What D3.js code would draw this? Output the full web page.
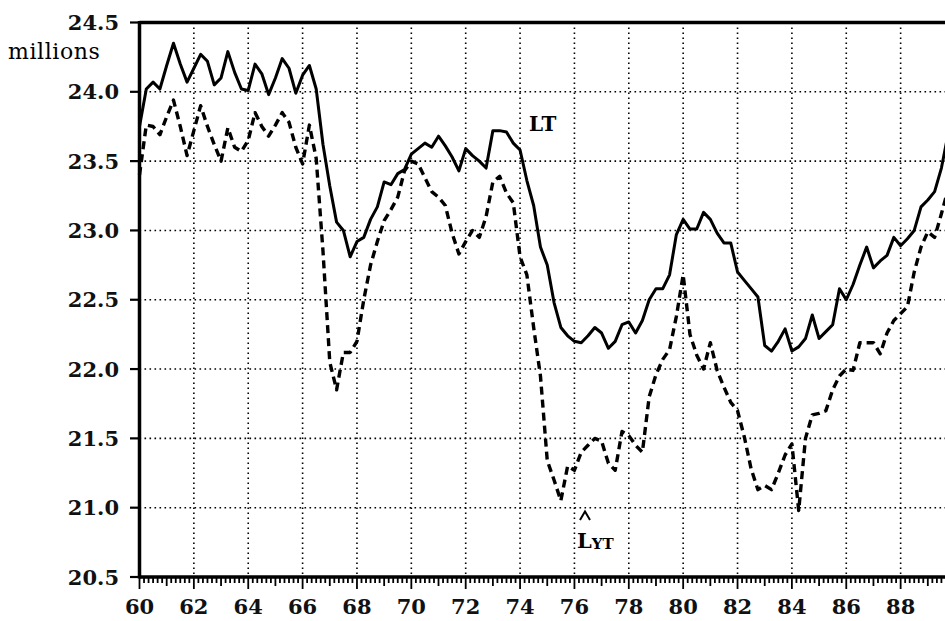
<!DOCTYPE html>
<html>
<head>
<meta charset="utf-8">
<script src="https://cdn.jsdelivr.net/npm/d3@7"></script>
<style>
  body { margin: 0; background: #fff; }
  svg { display: block; }
  .tick-label { font-family: "DejaVu Serif", serif; font-weight: bold; font-size: 21px; fill: #111; }
</style>
</head>
<body>
<svg id="chart" width="945" height="621"></svg>
<script>
// quarterly series, first value = 1960 Q1
var startYear = 60;
var lt = [
    23.75, 24.02, 24.07, 24.02,
    24.19, 24.35, 24.20, 24.07,
    24.17, 24.27, 24.22, 24.05,
    24.10, 24.29, 24.14, 24.02,
    24.01, 24.20, 24.13, 23.98,
    24.10, 24.24, 24.17, 23.99,
    24.12, 24.19, 24.02, 23.62,
    23.32, 23.06, 23.00, 22.81,
    22.92, 22.95, 23.08, 23.17,
    23.35, 23.33, 23.41, 23.44,
    23.55, 23.59, 23.63, 23.60,
    23.68, 23.61, 23.53, 23.43,
    23.59, 23.54, 23.50, 23.45,
    23.72, 23.72, 23.71, 23.63,
    23.58, 23.36, 23.18, 22.88,
    22.75, 22.48, 22.30, 22.24,
    22.20, 22.19, 22.24, 22.30,
    22.26, 22.15, 22.20, 22.32,
    22.34, 22.26, 22.35, 22.50,
    22.58, 22.58, 22.68, 22.97,
    23.08, 23.01, 23.01, 23.13,
    23.08, 22.98, 22.91, 22.91,
    22.70, 22.64, 22.58, 22.52,
    22.17, 22.13, 22.20, 22.29,
    22.13, 22.16, 22.22, 22.39,
    22.22, 22.27, 22.32, 22.58,
    22.50, 22.61, 22.75, 22.88,
    22.73, 22.78, 22.82, 22.95,
    22.89, 22.94, 23.00, 23.17,
    23.22, 23.28, 23.45, 23.70
];
var lyt = [
    23.40, 23.76, 23.75, 23.69,
    23.82, 23.94, 23.75, 23.54,
    23.72, 23.90, 23.75, 23.62,
    23.50, 23.74, 23.60, 23.57,
    23.65, 23.85, 23.75, 23.68,
    23.76, 23.85, 23.78, 23.60,
    23.48, 23.76, 23.52, 22.85,
    22.05, 21.85, 22.12, 22.12,
    22.20, 22.50, 22.75, 22.92,
    23.07, 23.15, 23.24, 23.43,
    23.50, 23.48, 23.38, 23.28,
    23.24, 23.18, 22.98, 22.83,
    22.92, 23.00, 22.95, 23.10,
    23.35, 23.39, 23.27, 23.20,
    22.81, 22.68, 22.30, 21.95,
    21.34, 21.20, 21.05, 21.30,
    21.27, 21.40, 21.45, 21.50,
    21.48, 21.32, 21.27, 21.55,
    21.52, 21.45, 21.40, 21.80,
    21.96, 22.07, 22.14, 22.38,
    22.68, 22.25, 22.10, 22.00,
    22.19, 21.99, 21.87, 21.76,
    21.70, 21.51, 21.28, 21.13,
    21.16, 21.13, 21.25, 21.38,
    21.46, 20.98, 21.50, 21.67,
    21.68, 21.70, 21.85, 21.95,
    22.00, 21.99, 22.19, 22.19,
    22.19, 22.11, 22.26, 22.35,
    22.40, 22.45, 22.70, 22.88,
    22.99, 22.95, 23.12, 23.30
];
var yTicks = [20.5, 21.0, 21.5, 22.0, 22.5, 23.0, 23.5, 24.0, 24.5];
var xTicks = [60, 62, 64, 66, 68, 70, 72, 74, 76, 78, 80, 82, 84, 86, 88];

var svg = d3.select("#chart");

var x = d3.scaleLinear().domain([60, 90]).range([139.5, 955]);
var y = d3.scaleLinear().domain([20.5, 24.5]).range([577, 22.5]);

function toPoints(arr) {
    return arr.map(function (v, i) {
        return { t: startYear + i / 4, v: v };
    });
}

// dotted grid
svg.append("g").selectAll("line")
    .data(yTicks.slice(1, -1))
    .enter()
    .append("line")
    .attr("x1", x(60)).attr("x2", 945)
    .attr("y1", function (d) { return y(d); })
    .attr("y2", function (d) { return y(d); })
    .attr("stroke", "#000")
    .attr("stroke-width", 1.6)
    .attr("stroke-dasharray", "1.6 3.4");

svg.append("g").selectAll("line")
    .data(xTicks.slice(1))
    .enter()
    .append("line")
    .attr("x1", function (d) { return x(d); })
    .attr("x2", function (d) { return x(d); })
    .attr("y1", y(24.5)).attr("y2", y(20.5))
    .attr("stroke", "#000")
    .attr("stroke-width", 1.6)
    .attr("stroke-dasharray", "1.6 3.4");

// x minor ticks, every two months
var minor = d3.range(60 * 6, 90 * 6 + 1).map(function (k) { return k / 6; });
svg.append("g").selectAll("line")
    .data(minor)
    .enter()
    .append("line")
    .attr("x1", function (d) { return x(d); })
    .attr("x2", function (d) { return x(d); })
    .attr("y1", y(20.5))
    .attr("y2", function (d) {
        var r = Math.round(d * 6) % 12;
        if (r === 0) return y(20.5) + 12;
        if (r === 6) return y(20.5) + 9;
        return y(20.5) + 6;
    })
    .attr("stroke", "#000")
    .attr("stroke-width", 1.8);

svg.append("g").selectAll("text")
    .data(xTicks)
    .enter()
    .append("text")
    .attr("class", "tick-label")
    .attr("x", function (d) { return x(d); })
    .attr("y", 614)
    .attr("text-anchor", "middle")
    .text(function (d) { return d; });

// y ticks
svg.append("g").selectAll("line")
    .data(yTicks)
    .enter()
    .append("line")
    .attr("x1", 130).attr("x2", x(60))
    .attr("y1", function (d) { return y(d); })
    .attr("y2", function (d) { return y(d); })
    .attr("stroke", "#000")
    .attr("stroke-width", 2.2);

svg.append("g").selectAll("text")
    .data(yTicks)
    .enter()
    .append("text")
    .attr("class", "tick-label")
    .attr("x", 119)
    .attr("y", function (d) { return y(d) + 7.5; })
    .attr("text-anchor", "end")
    .text(function (d) { return d3.format(".1f")(d); });

svg.append("text")
    .attr("x", 8).attr("y", 59)
    .style("font-family", "'DejaVu Serif', serif")
    .style("font-size", "22px")
    .style("letter-spacing", "0.6px")
    .text("millions");

// frame
svg.append("line").attr("x1", x(60)).attr("x2", 945).attr("y1", y(24.5)).attr("y2", y(24.5))
    .attr("stroke", "#000").attr("stroke-width", 3.5);
svg.append("line").attr("x1", x(60)).attr("x2", 945).attr("y1", y(20.5)).attr("y2", y(20.5))
    .attr("stroke", "#000").attr("stroke-width", 3.5);
svg.append("line").attr("x1", x(60)).attr("x2", x(60)).attr("y1", y(24.5) - 1.5).attr("y2", y(20.5) + 1.5)
    .attr("stroke", "#000").attr("stroke-width", 3.5);

// series
var line = d3.line()
    .x(function (d) { return x(d.t); })
    .y(function (d) { return y(d.v); });

svg.append("path")
    .attr("d", line(toPoints(lyt)))
    .attr("fill", "none")
    .attr("stroke", "#000")
    .attr("stroke-width", 3.4)
    .attr("stroke-dasharray", "8 5")
    .attr("stroke-linejoin", "round");

svg.append("path")
    .attr("d", line(toPoints(lt)))
    .attr("fill", "none")
    .attr("stroke", "#000")
    .attr("stroke-width", 3)
    .attr("stroke-linejoin", "round");

// labels
svg.append("text")
    .attr("x", 529).attr("y", 131)
    .style("font-family", "'DejaVu Serif', serif")
    .style("font-weight", "bold")
    .style("font-size", "20px")
    .text("LT");

var lab = svg.append("text")
    .attr("x", 577).attr("y", 548)
    .style("font-family", "'DejaVu Serif', serif")
    .style("font-weight", "bold")
    .style("font-size", "21px");
lab.append("tspan").text("L");
lab.append("tspan").attr("dy", 1).style("font-size", "15px").text("YT");

// hat over the L
svg.append("path")
    .attr("d", "M580,520 L585,511.5 L590,520")
    .attr("fill", "none")
    .attr("stroke", "#000")
    .attr("stroke-width", 2);
</script>
</body>
</html>
